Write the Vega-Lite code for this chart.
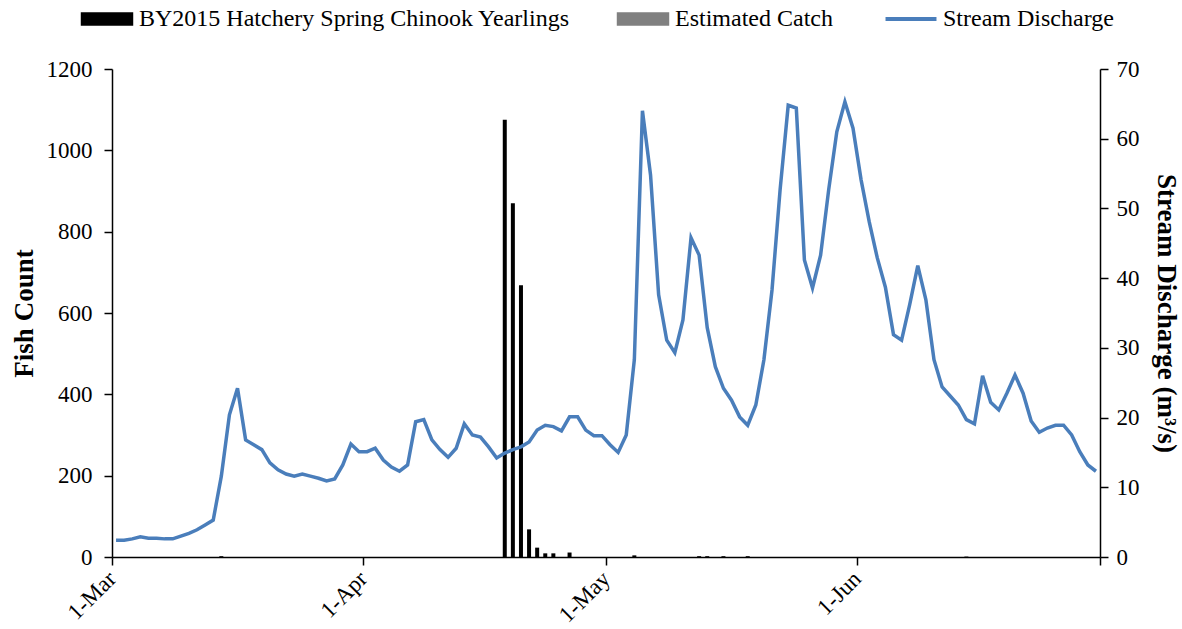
{
  "$schema": "https://vega.github.io/schema/vega-lite/v6.json",
  "width": 988,
  "height": 488,
  "autosize": {"type": "none"},
  "padding": {"left": 112, "top": 69, "right": 82, "bottom": 72},
  "background": "white",
  "config": {
    "view": {"stroke": null},
    "font": "Liberation Serif",
    "axis": {
      "grid": false,
      "domainColor": "black",
      "domainWidth": 1.5,
      "tickColor": "black",
      "tickWidth": 1.5,
      "tickSize": 8,
      "labelColor": "black",
      "labelFont": "Liberation Serif",
      "labelFontSize": 23,
      "titleColor": "black",
      "titleFont": "Liberation Serif",
      "titleFontSize": 27,
      "titleFontWeight": "bold"
    }
  },
  "datasets": {
    "fish": [
      {"date": "2017-03-14T12:00:00Z", "count": 2},
      {"date": "2017-04-18T12:00:00Z", "count": 1075},
      {"date": "2017-04-19T12:00:00Z", "count": 870},
      {"date": "2017-04-20T12:00:00Z", "count": 668},
      {"date": "2017-04-21T12:00:00Z", "count": 68},
      {"date": "2017-04-22T12:00:00Z", "count": 23},
      {"date": "2017-04-23T12:00:00Z", "count": 9},
      {"date": "2017-04-24T12:00:00Z", "count": 9},
      {"date": "2017-04-26T12:00:00Z", "count": 11},
      {"date": "2017-05-04T12:00:00Z", "count": 4},
      {"date": "2017-05-12T12:00:00Z", "count": 2},
      {"date": "2017-05-13T12:00:00Z", "count": 2},
      {"date": "2017-05-15T12:00:00Z", "count": 2},
      {"date": "2017-05-18T12:00:00Z", "count": 2},
      {"date": "2017-06-14T12:00:00Z", "count": 1}
    ],
    "flow": [
      {"date": "2017-03-01T12:00:00Z", "q": 2.4},
      {"date": "2017-03-02T12:00:00Z", "q": 2.4},
      {"date": "2017-03-03T12:00:00Z", "q": 2.6},
      {"date": "2017-03-04T12:00:00Z", "q": 2.9},
      {"date": "2017-03-05T12:00:00Z", "q": 2.7},
      {"date": "2017-03-06T12:00:00Z", "q": 2.7},
      {"date": "2017-03-07T12:00:00Z", "q": 2.6},
      {"date": "2017-03-08T12:00:00Z", "q": 2.6},
      {"date": "2017-03-09T12:00:00Z", "q": 3.0},
      {"date": "2017-03-10T12:00:00Z", "q": 3.4},
      {"date": "2017-03-11T12:00:00Z", "q": 3.9},
      {"date": "2017-03-12T12:00:00Z", "q": 4.6},
      {"date": "2017-03-13T12:00:00Z", "q": 5.3},
      {"date": "2017-03-14T12:00:00Z", "q": 11.6},
      {"date": "2017-03-15T12:00:00Z", "q": 20.4},
      {"date": "2017-03-16T12:00:00Z", "q": 24.2},
      {"date": "2017-03-17T12:00:00Z", "q": 16.8},
      {"date": "2017-03-18T12:00:00Z", "q": 16.1},
      {"date": "2017-03-19T12:00:00Z", "q": 15.4},
      {"date": "2017-03-20T12:00:00Z", "q": 13.5},
      {"date": "2017-03-21T12:00:00Z", "q": 12.5},
      {"date": "2017-03-22T12:00:00Z", "q": 11.9},
      {"date": "2017-03-23T12:00:00Z", "q": 11.6},
      {"date": "2017-03-24T12:00:00Z", "q": 11.9},
      {"date": "2017-03-25T12:00:00Z", "q": 11.6},
      {"date": "2017-03-26T12:00:00Z", "q": 11.3},
      {"date": "2017-03-27T12:00:00Z", "q": 10.9},
      {"date": "2017-03-28T12:00:00Z", "q": 11.2},
      {"date": "2017-03-29T12:00:00Z", "q": 13.2},
      {"date": "2017-03-30T12:00:00Z", "q": 16.2},
      {"date": "2017-03-31T12:00:00Z", "q": 15.1},
      {"date": "2017-04-01T12:00:00Z", "q": 15.1},
      {"date": "2017-04-02T12:00:00Z", "q": 15.6},
      {"date": "2017-04-03T12:00:00Z", "q": 13.9},
      {"date": "2017-04-04T12:00:00Z", "q": 12.9},
      {"date": "2017-04-05T12:00:00Z", "q": 12.3},
      {"date": "2017-04-06T12:00:00Z", "q": 13.2},
      {"date": "2017-04-07T12:00:00Z", "q": 19.4},
      {"date": "2017-04-08T12:00:00Z", "q": 19.7},
      {"date": "2017-04-09T12:00:00Z", "q": 16.8},
      {"date": "2017-04-10T12:00:00Z", "q": 15.4},
      {"date": "2017-04-11T12:00:00Z", "q": 14.3},
      {"date": "2017-04-12T12:00:00Z", "q": 15.6},
      {"date": "2017-04-13T12:00:00Z", "q": 19.1},
      {"date": "2017-04-14T12:00:00Z", "q": 17.5},
      {"date": "2017-04-15T12:00:00Z", "q": 17.2},
      {"date": "2017-04-16T12:00:00Z", "q": 15.8},
      {"date": "2017-04-17T12:00:00Z", "q": 14.2},
      {"date": "2017-04-18T12:00:00Z", "q": 14.9},
      {"date": "2017-04-19T12:00:00Z", "q": 15.4},
      {"date": "2017-04-20T12:00:00Z", "q": 15.8},
      {"date": "2017-04-21T12:00:00Z", "q": 16.5},
      {"date": "2017-04-22T12:00:00Z", "q": 18.2},
      {"date": "2017-04-23T12:00:00Z", "q": 18.9},
      {"date": "2017-04-24T12:00:00Z", "q": 18.7},
      {"date": "2017-04-25T12:00:00Z", "q": 18.1},
      {"date": "2017-04-26T12:00:00Z", "q": 20.1},
      {"date": "2017-04-27T12:00:00Z", "q": 20.1},
      {"date": "2017-04-28T12:00:00Z", "q": 18.2},
      {"date": "2017-04-29T12:00:00Z", "q": 17.4},
      {"date": "2017-04-30T12:00:00Z", "q": 17.4},
      {"date": "2017-05-01T12:00:00Z", "q": 16.1},
      {"date": "2017-05-02T12:00:00Z", "q": 15.0},
      {"date": "2017-05-03T12:00:00Z", "q": 17.5},
      {"date": "2017-05-04T12:00:00Z", "q": 28.3},
      {"date": "2017-05-05T12:00:00Z", "q": 64.0},
      {"date": "2017-05-06T12:00:00Z", "q": 54.8},
      {"date": "2017-05-07T12:00:00Z", "q": 37.6},
      {"date": "2017-05-08T12:00:00Z", "q": 31.1},
      {"date": "2017-05-09T12:00:00Z", "q": 29.3},
      {"date": "2017-05-10T12:00:00Z", "q": 34.0},
      {"date": "2017-05-11T12:00:00Z", "q": 45.8},
      {"date": "2017-05-12T12:00:00Z", "q": 43.3},
      {"date": "2017-05-13T12:00:00Z", "q": 32.9},
      {"date": "2017-05-14T12:00:00Z", "q": 27.3},
      {"date": "2017-05-15T12:00:00Z", "q": 24.2},
      {"date": "2017-05-16T12:00:00Z", "q": 22.5},
      {"date": "2017-05-17T12:00:00Z", "q": 20.1},
      {"date": "2017-05-18T12:00:00Z", "q": 18.9},
      {"date": "2017-05-19T12:00:00Z", "q": 21.8},
      {"date": "2017-05-20T12:00:00Z", "q": 28.3},
      {"date": "2017-05-21T12:00:00Z", "q": 38.3},
      {"date": "2017-05-22T12:00:00Z", "q": 52.7},
      {"date": "2017-05-23T12:00:00Z", "q": 64.8},
      {"date": "2017-05-24T12:00:00Z", "q": 64.4},
      {"date": "2017-05-25T12:00:00Z", "q": 42.6},
      {"date": "2017-05-26T12:00:00Z", "q": 38.6},
      {"date": "2017-05-27T12:00:00Z", "q": 43.3},
      {"date": "2017-05-28T12:00:00Z", "q": 52.7},
      {"date": "2017-05-29T12:00:00Z", "q": 61.0},
      {"date": "2017-05-30T12:00:00Z", "q": 65.3},
      {"date": "2017-05-31T12:00:00Z", "q": 61.5},
      {"date": "2017-06-01T12:00:00Z", "q": 54.1},
      {"date": "2017-06-02T12:00:00Z", "q": 48.1},
      {"date": "2017-06-03T12:00:00Z", "q": 42.9},
      {"date": "2017-06-04T12:00:00Z", "q": 38.7},
      {"date": "2017-06-05T12:00:00Z", "q": 31.9},
      {"date": "2017-06-06T12:00:00Z", "q": 31.1},
      {"date": "2017-06-07T12:00:00Z", "q": 36.2},
      {"date": "2017-06-08T12:00:00Z", "q": 41.8},
      {"date": "2017-06-09T12:00:00Z", "q": 36.9},
      {"date": "2017-06-10T12:00:00Z", "q": 28.3},
      {"date": "2017-06-11T12:00:00Z", "q": 24.4},
      {"date": "2017-06-12T12:00:00Z", "q": 23.1},
      {"date": "2017-06-13T12:00:00Z", "q": 21.8},
      {"date": "2017-06-14T12:00:00Z", "q": 19.7},
      {"date": "2017-06-15T12:00:00Z", "q": 19.1},
      {"date": "2017-06-16T12:00:00Z", "q": 26.0},
      {"date": "2017-06-17T12:00:00Z", "q": 22.2},
      {"date": "2017-06-18T12:00:00Z", "q": 21.1},
      {"date": "2017-06-19T12:00:00Z", "q": 23.5},
      {"date": "2017-06-20T12:00:00Z", "q": 26.1},
      {"date": "2017-06-21T12:00:00Z", "q": 23.5},
      {"date": "2017-06-22T12:00:00Z", "q": 19.5},
      {"date": "2017-06-23T12:00:00Z", "q": 17.9},
      {"date": "2017-06-24T12:00:00Z", "q": 18.5},
      {"date": "2017-06-25T12:00:00Z", "q": 18.9},
      {"date": "2017-06-26T12:00:00Z", "q": 18.9},
      {"date": "2017-06-27T12:00:00Z", "q": 17.5},
      {"date": "2017-06-28T12:00:00Z", "q": 15.1},
      {"date": "2017-06-29T12:00:00Z", "q": 13.2},
      {"date": "2017-06-30T12:00:00Z", "q": 12.3}
    ]
  },
  "layer": [
    {
      "data": {"name": "fish"},
      "mark": {"type": "bar", "size": 4},
      "encoding": {
        "x": {
          "field": "date",
          "type": "temporal",
          "scale": {"type": "utc", "domain": [1488326400000, 1498867200000], "padding": 0},
          "axis": {
            "orient": "bottom",
            "title": null,
            "values": [1488326400000, 1491004800000, 1493596800000, 1496275200000, 1498867200000],
            "labelExpr": "datum.value >= 1498867200000 ? '' : utcFormat(datum.value, '%-d-%b')",
            "labelAngle": -45,
            "labelAlign": "right",
            "labelBaseline": "middle",
            "labelPadding": 10,
            "labelOffset": 0
          }
        },
        "y": {
          "field": "count",
          "type": "quantitative",
          "scale": {"domain": [0, 1200], "nice": false},
          "axis": {
            "orient": "left",
            "title": "Fish Count",
            "format": "d",
            "values": [0, 200, 400, 600, 800, 1000, 1200],
            "labelPadding": 12,
            "titlePadding": 8
          }
        },
        "color": {
          "datum": "BY2015 Hatchery Spring Chinook Yearlings",
          "type": "nominal",
          "scale": {
            "domain": ["BY2015 Hatchery Spring Chinook Yearlings", "Estimated Catch", "Stream Discharge"],
            "range": ["#000000", "#808080", "#4a7ebb"]
          },
          "legend": {
            "orient": "none",
            "legendX": -17,
            "legendY": -62,
            "direction": "horizontal",
            "title": null,
            "padding": 0,
            "symbolSize": 2704,
            "symbolType": "M-0.98,-0.23H0.98V0.23H-0.98Z",
            "labelFont": "Liberation Serif",
            "labelFontSize": 24,
            "labelColor": "black",
            "labelOffset": 20,
            "labelLimit": 0,
            "columnPadding": 44,
            "encode": {
              "symbols": {
                "update": {
                  "shape": {"signal": "datum.value === 'Stream Discharge' ? 'M-0.98,0H0.98' : 'M-0.98,-0.23H0.98V0.23H-0.98Z'"},
                  "fill": {"signal": "datum.value === 'Stream Discharge' ? 'transparent' : (datum.value === 'Estimated Catch' ? '#808080' : '#000000')"},
                  "stroke": {"signal": "datum.value === 'Stream Discharge' ? '#4a7ebb' : '#000000'"},
                  "strokeWidth": {"signal": "datum.value === 'Stream Discharge' ? 4 : 1.5"},
                  "opacity": {"value": 1},
                  "fillOpacity": {"value": 1},
                  "strokeOpacity": {"value": 1}
                }
              }
            }
          }
        }
      }
    },
    {
      "data": {"name": "flow"},
      "mark": {"type": "line", "strokeWidth": 3.5},
      "encoding": {
        "x": {"field": "date", "type": "temporal"},
        "y": {
          "field": "q",
          "type": "quantitative",
          "scale": {"domain": [0, 70], "nice": false},
          "axis": {
            "orient": "right",
            "title": "Stream Discharge (m³/s)",
            "values": [0, 10, 20, 30, 40, 50, 60, 70],
            "labelPadding": 8,
            "titlePadding": 12
          }
        },
        "color": {"datum": "Stream Discharge", "type": "nominal"}
      }
    }
  ],
  "resolve": {"scale": {"y": "independent"}}
}
